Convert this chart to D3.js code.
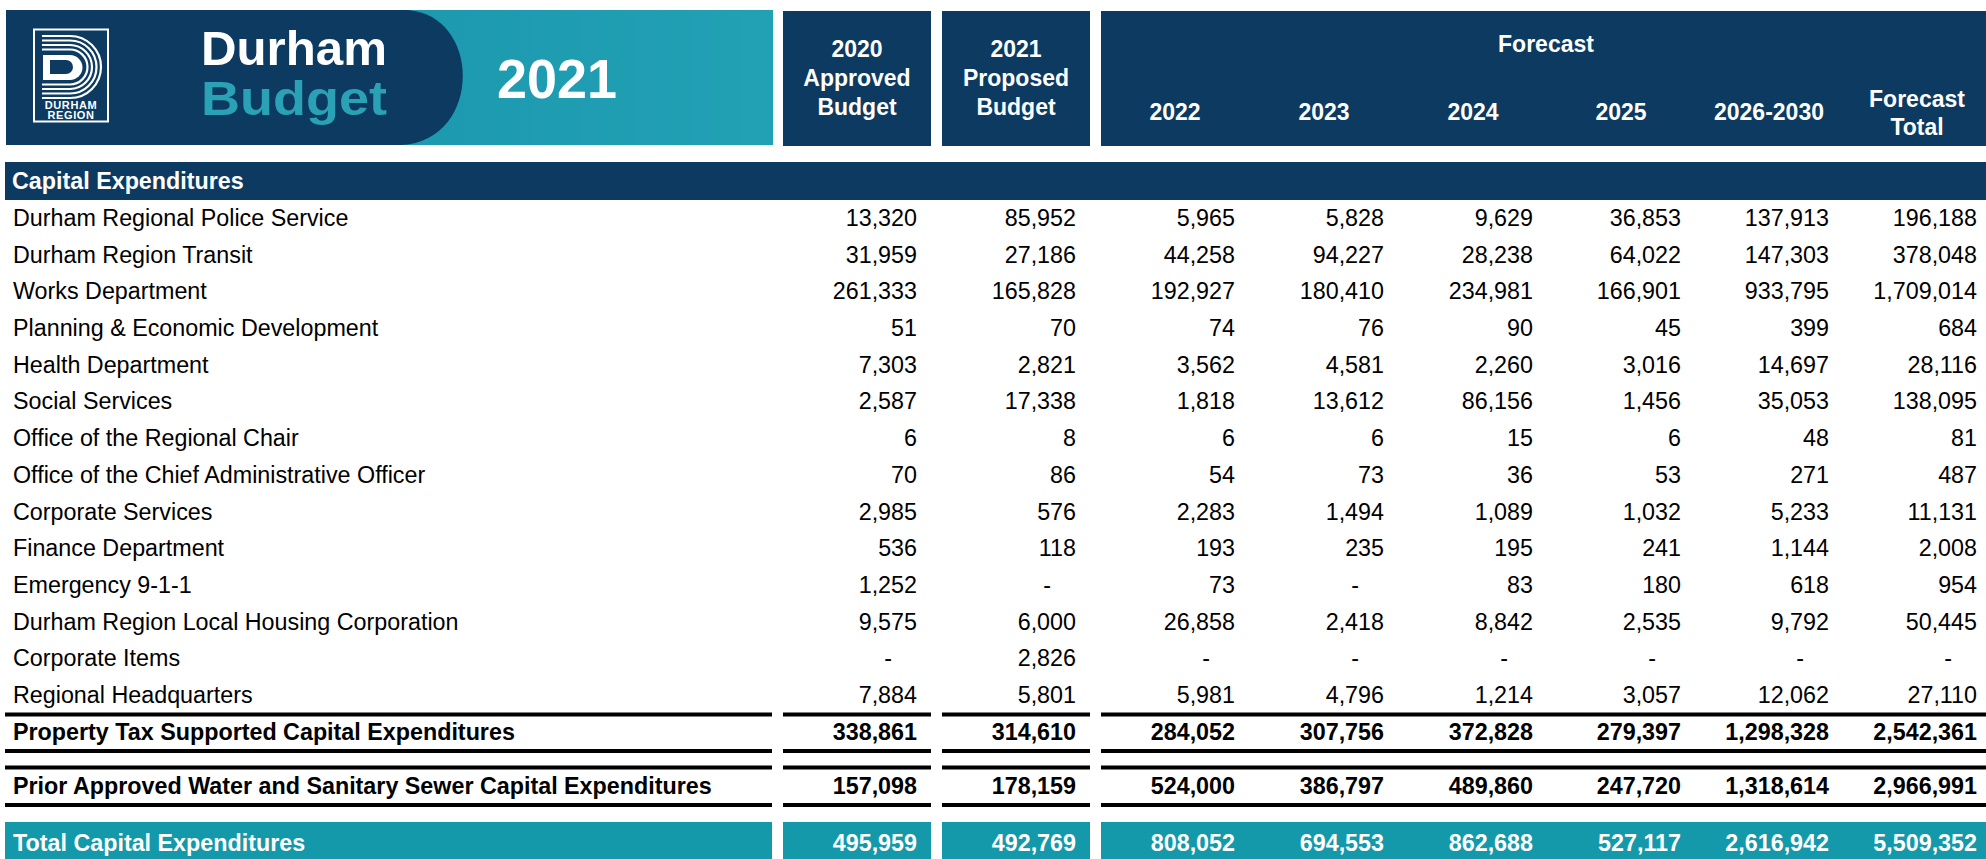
<!DOCTYPE html>
<html>
<head>
<meta charset="utf-8">
<script src="https://cdn.jsdelivr.net/npm/d3@7"></script>
<style>
  html, body { margin: 0; padding: 0; background: #fff; }
  svg { display: block; }
  text { font-family: "Liberation Sans", Arial, sans-serif; }
</style>
</head>
<body>
<svg id="chart" width="1986" height="859"></svg>
<script>
// ---------------- DATA ----------------
const categories = [
  "Durham Regional Police Service",
  "Durham Region Transit",
  "Works Department",
  "Planning & Economic Development",
  "Health Department",
  "Social Services",
  "Office of the Regional Chair",
  "Office of the Chief Administrative Officer",
  "Corporate Services",
  "Finance Department",
  "Emergency 9-1-1",
  "Durham Region Local Housing Corporation",
  "Corporate Items",
  "Regional Headquarters"
];
const columnKeys = ["2020", "2021", "2022", "2023", "2024", "2025", "2026-2030", "Total"];
const approved2020 = [13320, 31959, 261333, 51, 7303, 2587, 6, 70, 2985, 536, 1252, 9575, 0, 7884];
const proposed2021 = [85952, 27186, 165828, 70, 2821, 17338, 8, 86, 576, 118, 0, 6000, 2826, 5801];
const forecast2022 = [5965, 44258, 192927, 74, 3562, 1818, 6, 54, 2283, 193, 73, 26858, 0, 5981];
const forecast2023 = [5828, 94227, 180410, 76, 4581, 13612, 6, 73, 1494, 235, 0, 2418, 0, 4796];
const forecast2024 = [9629, 28238, 234981, 90, 2260, 86156, 15, 36, 1089, 195, 83, 8842, 0, 1214];
const forecast2025 = [36853, 64022, 166901, 45, 3016, 1456, 6, 53, 1032, 241, 180, 2535, 0, 3057];
const forecast2026_2030 = [137913, 147303, 933795, 399, 14697, 35053, 48, 271, 5233, 1144, 618, 9792, 0, 12062];
const forecastTotal = [196188, 378048, 1709014, 684, 28116, 138095, 81, 487, 11131, 2008, 954, 50445, 0, 27110];

const propertyTaxLabel = "Property Tax Supported Capital Expenditures";
const propertyTaxValues = [338861, 314610, 284052, 307756, 372828, 279397, 1298328, 2542361];
const priorWaterLabel = "Prior Approved Water and Sanitary Sewer Capital Expenditures";
const priorWaterValues = [157098, 178159, 524000, 386797, 489860, 247720, 1318614, 2966991];
const totalLabel = "Total Capital Expenditures";
const totalValues = [495959, 492769, 808052, 694553, 862688, 527117, 2616942, 5509352];

const headerApproved = ["2020", "Approved", "Budget"];
const headerProposed = ["2021", "Proposed", "Budget"];
const forecastHeader = "Forecast";
const forecastColLabels = ["2022", "2023", "2024", "2025", "2026-2030"];
const forecastTotalHeader = ["Forecast", "Total"];
const sectionTitle = "Capital Expenditures";
const bannerWords = ["Durham", "Budget", "2021"];
const logoWords = ["DURHAM", "REGION"];

// ---------------- LAYOUT ----------------
const NAVY = "#0c3a61";
const TEAL = "#1399aa";
const FS = 23.3;
const svg = d3.select("#chart");

const seriesByCol = [approved2020, proposed2021, forecast2022, forecast2023, forecast2024, forecast2025, forecast2026_2030, forecastTotal];

// column right edges (for right-aligned numbers)
const xRight = d3.scaleOrdinal().domain(columnKeys)
  .range([917, 1076, 1235, 1384, 1533, 1681, 1829, 1977]);
const headerCenter = k => xRight(k) - 60;

// row baselines
const yRow = d3.scalePoint().domain(categories).range([226, 703]);

// column blocks (label block, 2020, 2021, forecast group)
const blocks = [[5, 772], [783, 931], [942, 1090], [1101, 1986]];

const fmt = d3.format(",");
const DASH_OFFSET = 25;

// ---------------- BANNER ----------------
const defs = svg.append("defs");
const grad = defs.append("linearGradient").attr("id", "bannerGrad").attr("x1", "0").attr("x2", "1");
grad.append("stop").attr("offset", "0").attr("stop-color", "#1692a8");
grad.append("stop").attr("offset", "1").attr("stop-color", "#22a0b4");

svg.append("rect").attr("x", 6).attr("y", 10).attr("width", 767).attr("height", 135).attr("fill", "url(#bannerGrad)");
svg.append("path")
  .attr("d", "M6,10 L408,10 C482,16 482,140 402,145 L6,145 Z")
  .attr("fill", NAVY);

// logo
const logo = svg.append("g");
logo.append("rect").attr("x", 34).attr("y", 29.5).attr("width", 74).attr("height", 92)
  .attr("fill", "none").attr("stroke", "#fff").attr("stroke-width", 2);
const dPath = (left, top, bottom, xc) => {
  const r = (bottom - top) / 2;
  return `M${left},${top} L${xc},${top} A${r},${r} 0 0 1 ${xc},${bottom} L${left},${bottom}`;
};
for (let k = 0; k < 4; k++) {
  logo.append("path")
    .attr("d", dPath(42, 36 + 4.5 * k, 98 - 4.5 * k, 70))
    .attr("fill", "none").attr("stroke", "#fff").attr("stroke-width", 2.2);
}
logo.append("path")
  .attr("d", dPath(43, 55, 80, 70) + " Z")
  .attr("fill", "#fff");
logo.append("path")
  .attr("d", "M50,60 L66,60 A7,7 0 0 1 66,74 L50,74 Z")
  .attr("fill", NAVY);
logo.selectAll("text.logo").data(logoWords).enter().append("text")
  .attr("class", "logo")
  .attr("x", 71).attr("y", (d, i) => 108.5 + i * 10)
  .attr("text-anchor", "middle")
  .attr("fill", "#fff").attr("font-weight", "bold").attr("font-size", 11)
  .attr("letter-spacing", 0.6)
  .text(d => d);

// Durham / Budget / 2021
svg.append("text").attr("x", 201).attr("y", 65).attr("fill", "#fff")
  .attr("font-weight", "bold").attr("font-size", 48)
  .attr("textLength", 186).attr("lengthAdjust", "spacingAndGlyphs")
  .text(bannerWords[0]);
svg.append("text").attr("x", 201).attr("y", 115).attr("fill", "#2aa1b5")
  .attr("font-weight", "bold").attr("font-size", 48)
  .attr("textLength", 186).attr("lengthAdjust", "spacingAndGlyphs")
  .text(bannerWords[1]);
svg.append("text").attr("x", 497).attr("y", 98).attr("fill", "#fff")
  .attr("font-weight", "bold").attr("font-size", 56)
  .attr("textLength", 120).attr("lengthAdjust", "spacingAndGlyphs")
  .text(bannerWords[2]);

// ---------------- COLUMN HEADERS ----------------
blocks.slice(1).forEach(b => {
  svg.append("rect").attr("x", b[0]).attr("y", 11).attr("width", b[1] - b[0]).attr("height", 135).attr("fill", NAVY);
});
const hdrText = (x, y, t) => svg.append("text").attr("x", x).attr("y", y)
  .attr("text-anchor", "middle").attr("fill", "#fff")
  .attr("font-weight", "bold").attr("font-size", 23).text(t);

headerApproved.forEach((t, i) => hdrText(headerCenter("2020"), [57, 86, 115][i], t));
headerProposed.forEach((t, i) => hdrText(headerCenter("2021"), [57, 86, 115][i], t));
hdrText(1546, 52, forecastHeader);
forecastColLabels.forEach((t, i) => hdrText(headerCenter(columnKeys[i + 2]), 120, t));
forecastTotalHeader.forEach((t, i) => hdrText(headerCenter("Total"), [107, 135][i], t));

// section bar
svg.append("rect").attr("x", 5).attr("y", 162).attr("width", 1981).attr("height", 38).attr("fill", NAVY);
svg.append("text").attr("x", 12).attr("y", 189).attr("fill", "#fff")
  .attr("font-weight", "bold").attr("font-size", FS).text(sectionTitle);

// ---------------- BODY ROWS ----------------
const cellText = (g, v, key, y, opts) => {
  const isZero = v === 0;
  g.append("text")
    .attr("x", isZero ? xRight(key) - DASH_OFFSET : xRight(key))
    .attr("y", y)
    .attr("text-anchor", "end")
    .attr("fill", opts.fill)
    .attr("font-weight", opts.bold ? "bold" : "normal")
    .attr("font-size", FS)
    .text(isZero ? "-" : fmt(v));
};

const body = svg.append("g");
categories.forEach((c, r) => {
  const y = yRow(c);
  body.append("text").attr("x", 13).attr("y", y).attr("fill", "#000").attr("font-size", FS).text(c);
  columnKeys.forEach((k, ci) => cellText(body, seriesByCol[ci][r], k, y, { fill: "#000", bold: false }));
});

// separator lines
const hLines = [712.5, 749, 765.5, 803];
hLines.forEach(y => {
  blocks.forEach(b => {
    svg.append("rect").attr("x", b[0]).attr("y", y).attr("width", b[1] - b[0]).attr("height", 4).attr("fill", "#000");
  });
});

// subtotal rows
const subRow = (label, values, y, fill) => {
  const g = svg.append("g");
  g.append("text").attr("x", 13).attr("y", y).attr("fill", fill)
    .attr("font-weight", "bold").attr("font-size", FS).text(label);
  columnKeys.forEach((k, ci) => cellText(g, values[ci], k, y, { fill, bold: true }));
};
subRow(propertyTaxLabel, propertyTaxValues, 740, "#000");
subRow(priorWaterLabel, priorWaterValues, 794, "#000");

// total bar
blocks.forEach(b => {
  svg.append("rect").attr("x", b[0]).attr("y", 822).attr("width", b[1] - b[0]).attr("height", 37).attr("fill", TEAL);
});
subRow(totalLabel, totalValues, 851, "#fff");
</script>
</body>
</html>
